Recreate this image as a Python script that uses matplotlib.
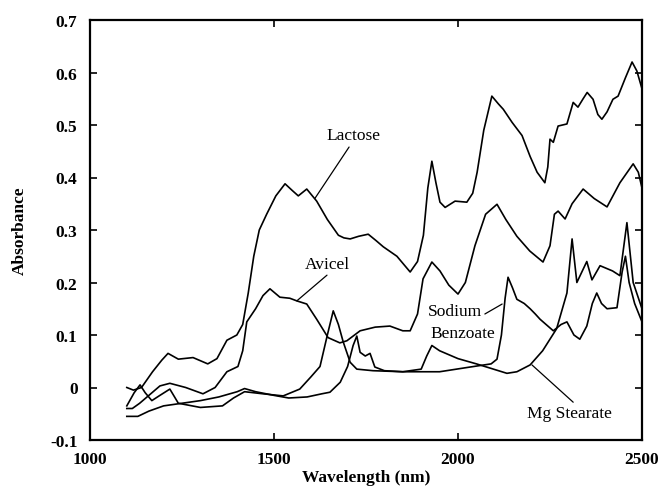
import matplotlib
matplotlib.use("Agg")
import matplotlib.pyplot as plt
from matplotlib.ticker import FixedLocator, FuncFormatter

plt.rcParams['font.family'] = ['Liberation Serif', 'DejaVu Serif']

# ---- data (wavelength nm, absorbance) ----
lactose_wl = [1100, 1118, 1140, 1170, 1195, 1212, 1240, 1280, 1320, 1345, 1372, 1399, 1415, 1430,
              1445, 1460, 1480, 1505, 1530, 1550, 1566, 1589, 1616, 1645, 1675, 1690, 1707, 1730,
              1756, 1777, 1797, 1834, 1870, 1890, 1906, 1918, 1929, 1940, 1951, 1965, 1992, 2024,
              2040, 2052, 2070, 2092, 2110, 2123, 2147, 2174, 2196, 2215, 2236, 2244, 2250, 2259,
              2272, 2296, 2313, 2326, 2340, 2351, 2367, 2380, 2391, 2405, 2421, 2435, 2455, 2473,
              2486, 2500]
lactose_abs = [0.0, -0.005, 0.0, 0.03, 0.052, 0.065, 0.054, 0.057, 0.045, 0.055, 0.09, 0.1, 0.12, 0.18,
               0.25, 0.3, 0.33, 0.365, 0.388, 0.375, 0.365, 0.378, 0.355, 0.32, 0.29, 0.285, 0.283, 0.288,
               0.292, 0.28, 0.268, 0.25, 0.22, 0.24, 0.29, 0.38, 0.431, 0.39, 0.353, 0.343, 0.355, 0.353,
               0.37, 0.41, 0.49, 0.555, 0.54, 0.53, 0.505, 0.48, 0.44, 0.41, 0.39, 0.42, 0.473, 0.467,
               0.498, 0.502, 0.543, 0.534, 0.55, 0.562, 0.549, 0.52, 0.511, 0.525, 0.549, 0.555, 0.59, 0.62,
               0.603, 0.569]

avicel_wl = [1100, 1115, 1135, 1160, 1190, 1217, 1260, 1307, 1340, 1372, 1402, 1415, 1426, 1450,
             1470, 1489, 1516, 1543, 1562, 1589, 1616, 1647, 1679, 1698, 1734, 1775, 1815, 1850,
             1870, 1890, 1905, 1929, 1951, 1975, 2000, 2020, 2046, 2075, 2106, 2130, 2160, 2195,
             2231, 2250, 2262, 2272, 2291, 2310, 2340, 2370, 2405, 2440, 2476, 2490, 2500]
avicel_abs = [-0.04, -0.04, -0.03, -0.015, 0.003, 0.008, 0.0, -0.012, 0.0, 0.03, 0.04, 0.07, 0.125, 0.15,
              0.175, 0.188, 0.172, 0.17, 0.165, 0.159, 0.13, 0.095, 0.085, 0.089, 0.108, 0.115, 0.117, 0.108,
              0.108, 0.14, 0.207, 0.239, 0.222, 0.195, 0.178, 0.2, 0.27, 0.33, 0.349, 0.32, 0.288, 0.26,
              0.239, 0.27, 0.33, 0.336, 0.321, 0.35, 0.378, 0.36, 0.344, 0.39, 0.426, 0.41, 0.38]

benzoate_wl = [1100, 1120, 1136, 1150, 1168, 1190, 1217, 1240, 1300, 1360, 1390, 1420, 1470, 1525,
               1570, 1600, 1625, 1645, 1661, 1675, 1688, 1707, 1725, 1769, 1850, 1950, 2033, 2090,
               2106, 2118, 2128, 2136, 2148, 2160, 2180, 2196, 2210, 2223, 2259, 2280, 2296, 2315,
               2331, 2350, 2365, 2377, 2390, 2405, 2432, 2446, 2455, 2465, 2480, 2500]
benzoate_abs = [-0.035, -0.01, 0.005, -0.01, -0.025, -0.015, -0.003, -0.03, -0.038, -0.035, -0.02, -0.008,
                -0.012, -0.016, -0.003, 0.02, 0.04, 0.1, 0.146, 0.12, 0.087, 0.048, 0.035, 0.032, 0.03,
                0.03, 0.039, 0.045, 0.054, 0.1, 0.17, 0.21, 0.19, 0.168, 0.16, 0.15, 0.14, 0.13, 0.108,
                0.12, 0.125, 0.1, 0.092, 0.117, 0.16, 0.18, 0.16, 0.15, 0.152, 0.22, 0.25, 0.2, 0.16, 0.125]

stearate_wl = [1100, 1130, 1160, 1200, 1250, 1300, 1350, 1400, 1420, 1450, 1500, 1540, 1590, 1630,
               1652, 1680, 1700, 1715, 1725, 1734, 1748, 1761, 1774, 1800, 1850, 1900, 1915, 1929,
               1950, 2000, 2050, 2087, 2133, 2160, 2196, 2230, 2268, 2296, 2310, 2323, 2350, 2364,
               2386, 2420, 2440, 2459, 2476, 2500]
stearate_abs = [-0.055, -0.055, -0.045, -0.035, -0.03, -0.025, -0.018, -0.008, -0.002, -0.008, -0.015,
                -0.02, -0.018, -0.012, -0.009, 0.01, 0.04, 0.08, 0.098, 0.067, 0.06, 0.065, 0.039, 0.032,
                0.03, 0.035, 0.06, 0.08, 0.07, 0.055, 0.045, 0.037, 0.027, 0.03, 0.043, 0.07, 0.112, 0.18,
                0.283, 0.2, 0.24, 0.205, 0.232, 0.222, 0.213, 0.314, 0.2, 0.15]

x_ticks = [1000, 1500, 2000, 2500]
y_ticks = [-0.1, 0.0, 0.1, 0.2, 0.3, 0.4, 0.5, 0.6, 0.7]

# ---- figure ----
fig = plt.figure(figsize=(6.6, 4.89), dpi=100)
ax = fig.add_axes([90/660, 1-441/489, (642-90)/660, (441-21)/489])

for wl, ab in [(lactose_wl, lactose_abs), (avicel_wl, avicel_abs),
               (benzoate_wl, benzoate_abs), (stearate_wl, stearate_abs)]:
    ax.plot(wl, ab, color='black', lw=1.2)

ax.set_xlim(1000, 2500)
ax.set_ylim(-0.1, 0.7)
ax.xaxis.set_major_locator(FixedLocator(x_ticks))
ax.yaxis.set_major_locator(FixedLocator(y_ticks))
ax.yaxis.set_major_formatter(FuncFormatter(lambda v, p: '0' if abs(v) < 1e-9 else f'{v:.1f}'))
ax.tick_params(direction='in', top=True, right=True, length=5, width=1.2,
               labelsize=12.5)
ax.tick_params(axis='x', pad=8)
ax.tick_params(axis='y', pad=9)
for lab in ax.get_xticklabels() + ax.get_yticklabels():
    lab.set_fontweight('bold')
for s in ax.spines.values():
    s.set_linewidth(1.6)

ax.set_xlabel('Wavelength (nm)', fontsize=12.5, fontweight='bold')
ax.xaxis.set_label_coords(0.5, -0.068)
ax.set_ylabel('Absorbance', fontsize=12.5, fontweight='bold')
ax.yaxis.set_label_coords(-0.112, 0.5)

lkw = dict(arrowstyle='-', lw=0.9, color='black', shrinkA=0, shrinkB=0)
tkw = dict(fontsize=12.5, color='black')

ax.text(1715, 0.481, 'Lactose', ha='center', va='center', **tkw)
ax.annotate('', xy=(1611, 0.36), xytext=(1704, 0.458), arrowprops=lkw)

ax.text(1644, 0.235, 'Avicel', ha='center', va='center', **tkw)
ax.annotate('', xy=(1562, 0.165), xytext=(1644, 0.214), arrowprops=lkw)

ax.text(1918, 0.146, 'Sodium', ha='left', va='center', **tkw)
ax.text(1924, 0.104, 'Benzoate', ha='left', va='center', **tkw)
ax.annotate('', xy=(2120, 0.159), xytext=(2073, 0.14), arrowprops=lkw)

ax.text(2302, -0.049, 'Mg Stearate', ha='center', va='center', **tkw)
ax.annotate('', xy=(2201, 0.043), xytext=(2313, -0.028), arrowprops=lkw)

fig.savefig('out.png', dpi=100)
